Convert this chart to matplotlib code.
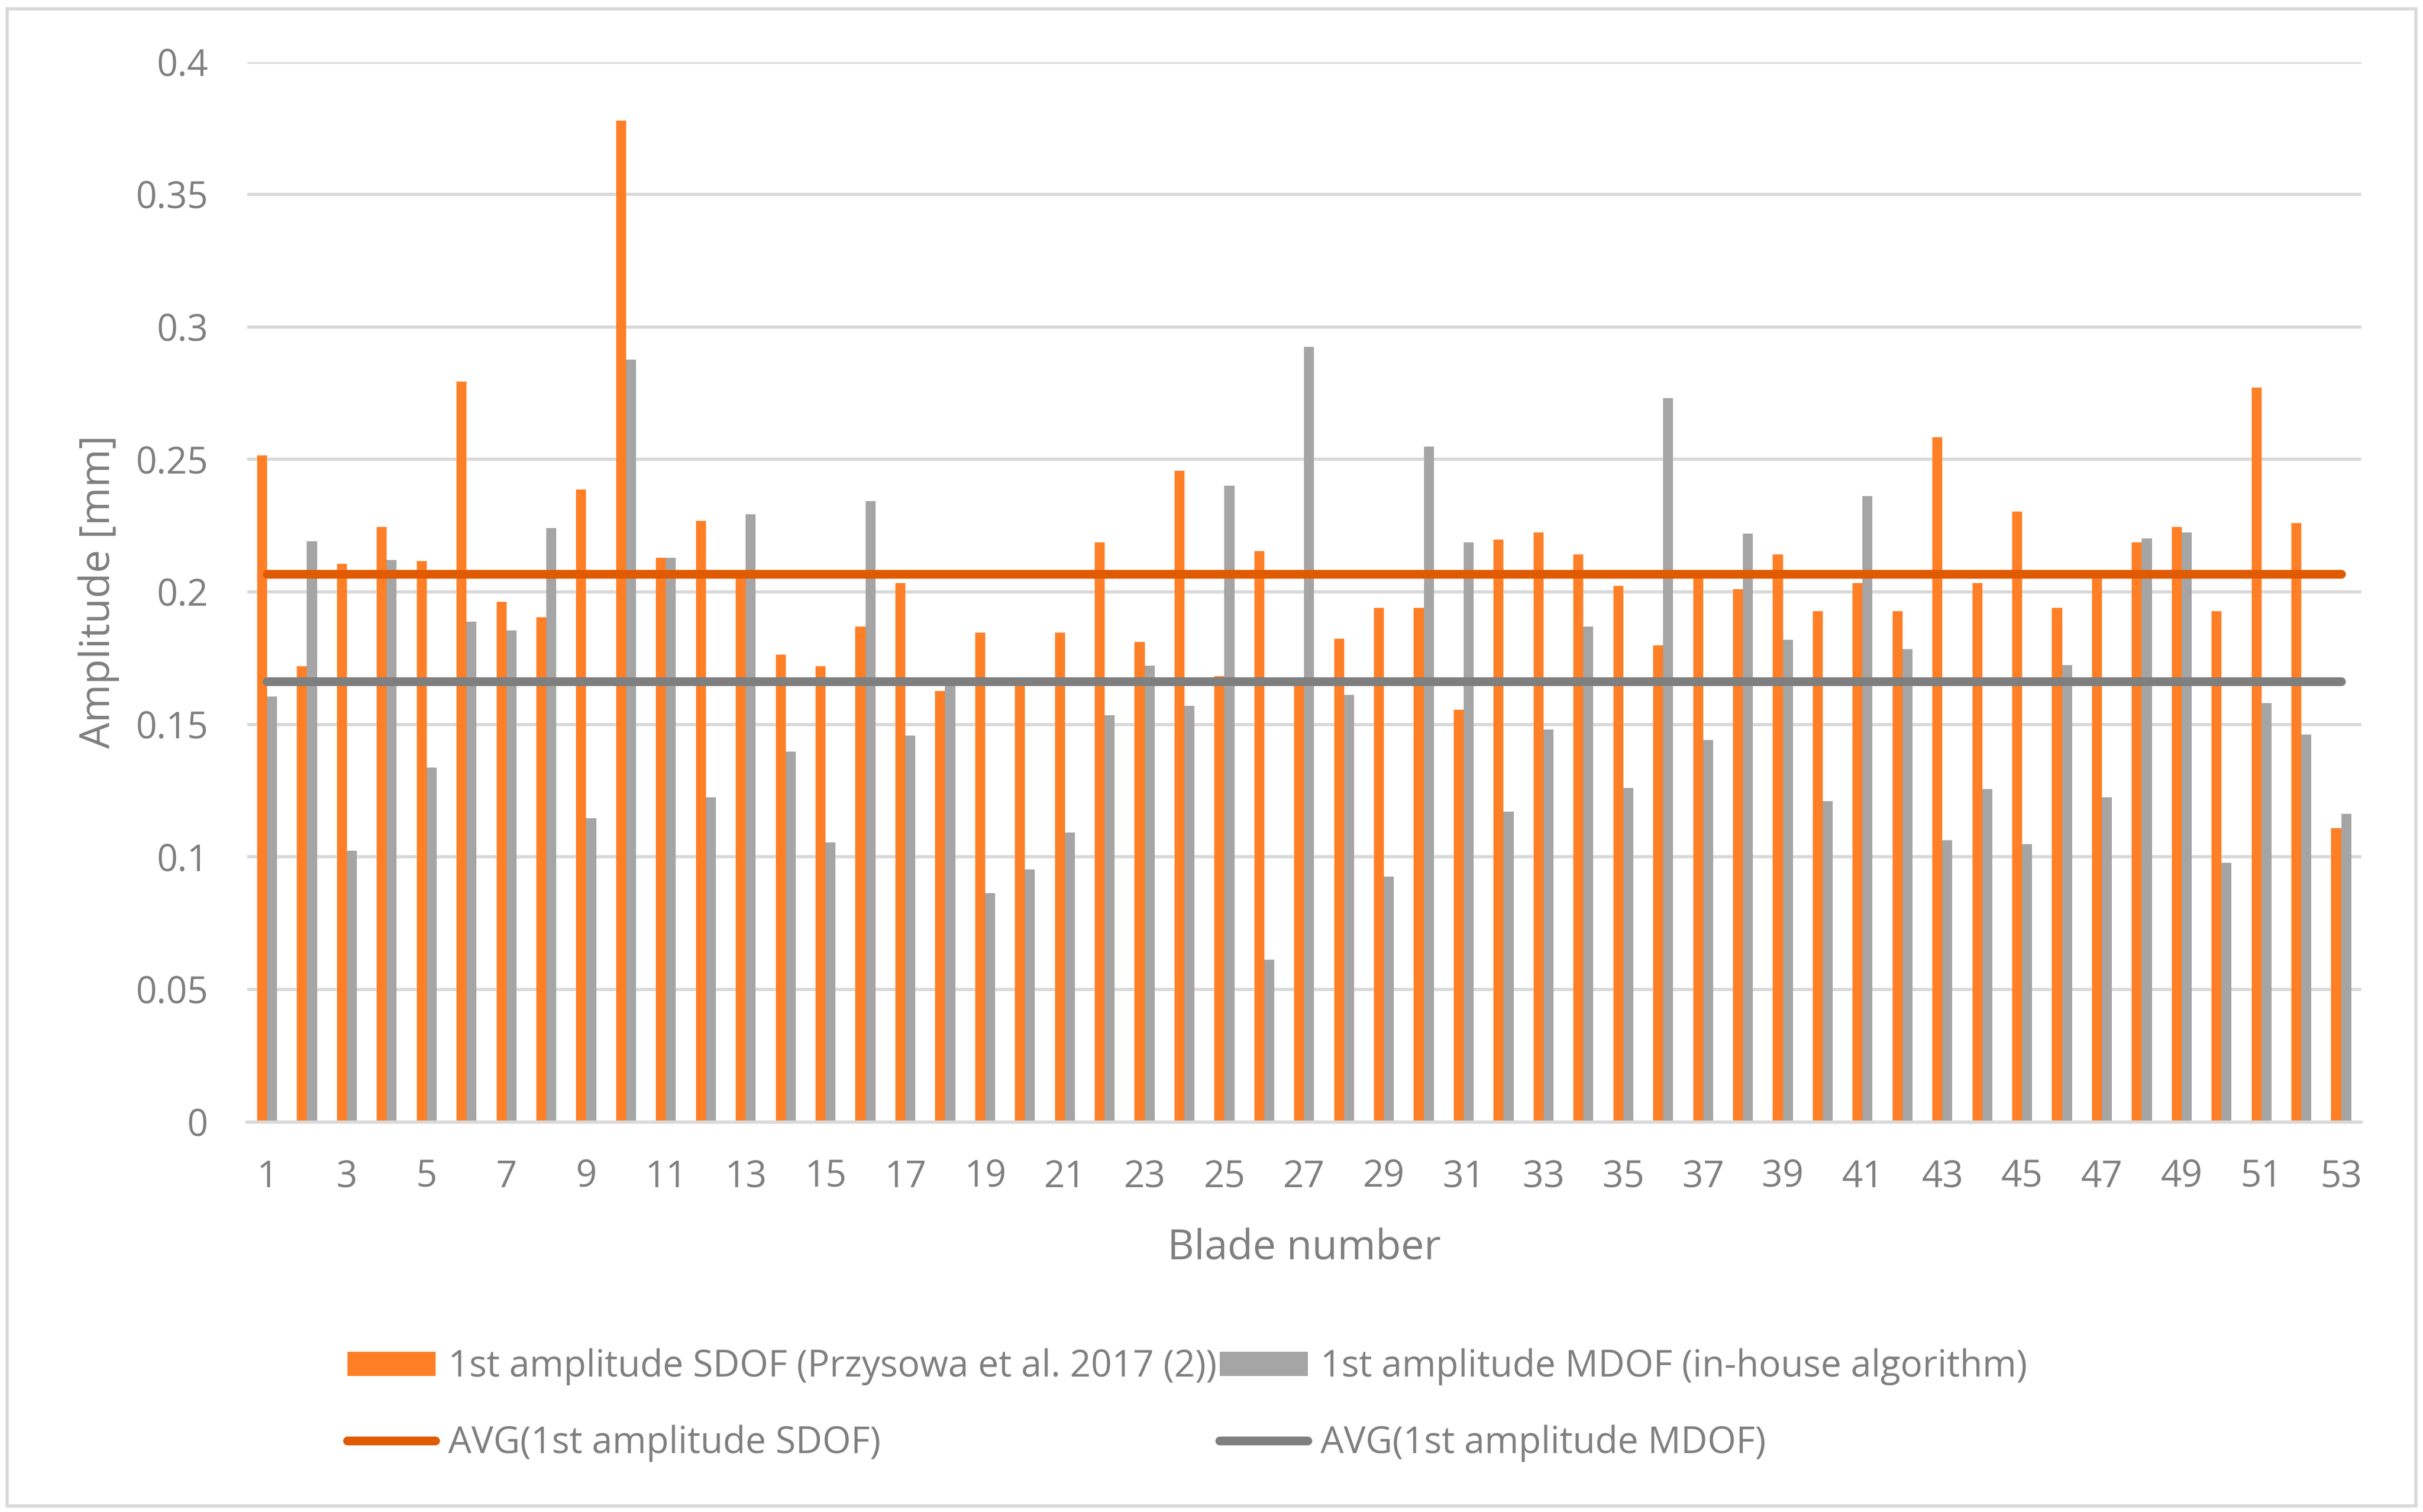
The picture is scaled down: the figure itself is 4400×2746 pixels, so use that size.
import matplotlib
matplotlib.use("Agg")
from matplotlib import pyplot as plt
from matplotlib.patches import Rectangle
import numpy as np

plt.rcParams['font.family'] = ['Open Sans', 'DejaVu Sans']

blades = np.arange(1, 54)
sdof = [0.2515, 0.1719, 0.2106, 0.2246, 0.2116, 0.2794, 0.1962, 0.1905, 0.2387, 0.3779,
        0.2128, 0.2269, 0.2070, 0.1764, 0.1719, 0.1869, 0.2033, 0.1626, 0.1847, 0.1660,
        0.1847, 0.2188, 0.1812, 0.2457, 0.1683, 0.2153, 0.1650, 0.1824, 0.1940, 0.1940,
        0.1555, 0.2198, 0.2224, 0.2141, 0.2023, 0.1799, 0.2060, 0.2010, 0.2141, 0.1927,
        0.2033, 0.1927, 0.2585, 0.2033, 0.2304, 0.1940, 0.2060, 0.2188, 0.2246, 0.1927,
        0.2771, 0.2259, 0.1108]
mdof = [0.1606, 0.2191, 0.1023, 0.2121, 0.1337, 0.1887, 0.1854, 0.2241, 0.1146, 0.2877,
        0.2128, 0.1226, 0.2294, 0.1397, 0.1055, 0.2344, 0.1457, 0.1650, 0.0864, 0.0952,
        0.1093, 0.1535, 0.1721, 0.1570, 0.2402, 0.0611, 0.2925, 0.1611, 0.0925, 0.2548,
        0.2188, 0.1171, 0.1480, 0.1869, 0.1261, 0.2731, 0.1442, 0.2221, 0.1819, 0.1211,
        0.2362, 0.1784, 0.1063, 0.1256, 0.1048, 0.1724, 0.1226, 0.2201, 0.2224, 0.0977,
        0.1580, 0.1462, 0.1163]
avg_sdof = 0.2066
avg_mdof = 0.1661

labels = ["1st amplitude SDOF (Przysowa et al. 2017 (2))",
          "1st amplitude MDOF (in-house algorithm)",
          "AVG(1st amplitude SDOF)",
          "AVG(1st amplitude MDOF)"]

text_color = "#7f7f7f"
grid_color = "#d9d9d9"

fig = plt.figure(figsize=(4400 / 300, 2746 / 300), dpi=300)
ax = fig.add_axes([0.102, 0.258, 0.8725, 0.701])

w = 0.25
b1 = ax.bar(blades - w / 2, sdof, width=w, color="#ff7f27", zorder=2)
b2 = ax.bar(blades + w / 2, mdof, width=w, color="#a5a5a5", zorder=2)
l1, = ax.plot(blades, [avg_sdof] * len(blades), color="#e05a00", lw=3.8,
              solid_capstyle="round", zorder=3)
l2, = ax.plot(blades, [avg_mdof] * len(blades), color="#7f7f7f", lw=3.8,
              solid_capstyle="round", zorder=3)

ax.set_xlim(0.5, 53.5)
ax.set_ylim(0, 0.4)
ax.set_yticks(np.arange(0, 0.41, 0.05))
ax.set_yticklabels(["0", "0.05", "0.1", "0.15", "0.2", "0.25", "0.3", "0.35", "0.4"])
ax.set_xticks(blades[::2])
ax.set_xticklabels([str(b) for b in blades[::2]])
ax.yaxis.grid(True, color=grid_color, lw=1.4, zorder=0)
ax.set_axisbelow(True)
for s in ["left", "right", "top"]:
    ax.spines[s].set_visible(False)
ax.spines["bottom"].set_color(grid_color)
ax.spines["bottom"].set_linewidth(1.4)
ax.tick_params(axis="both", length=0, labelsize=16, colors=text_color)
ax.tick_params(axis="x", pad=16)
ax.tick_params(axis="y", pad=17)

ax.set_xlabel("Blade number", fontsize=18, color=text_color, labelpad=14)
ax.set_ylabel("Amplitude [mm]", fontsize=18, color=text_color, labelpad=7)

fig.legend([b1, l1, b2, l2], [labels[0], labels[2], labels[1], labels[3]],
           ncol=2, loc="center left", bbox_to_anchor=(0.1435, 0.0706),
           frameon=False, fontsize=16, labelcolor=text_color,
           borderpad=0, borderaxespad=0, handlelength=2.4, handleheight=0.63,
           handletextpad=0.34, columnspacing=0.08, labelspacing=1.07)

fig.patches.append(Rectangle((0.003, 0.004), 0.994, 0.99, transform=fig.transFigure,
                             fill=False, edgecolor=grid_color, lw=1.4))

fig.savefig("out.png", dpi=300)
